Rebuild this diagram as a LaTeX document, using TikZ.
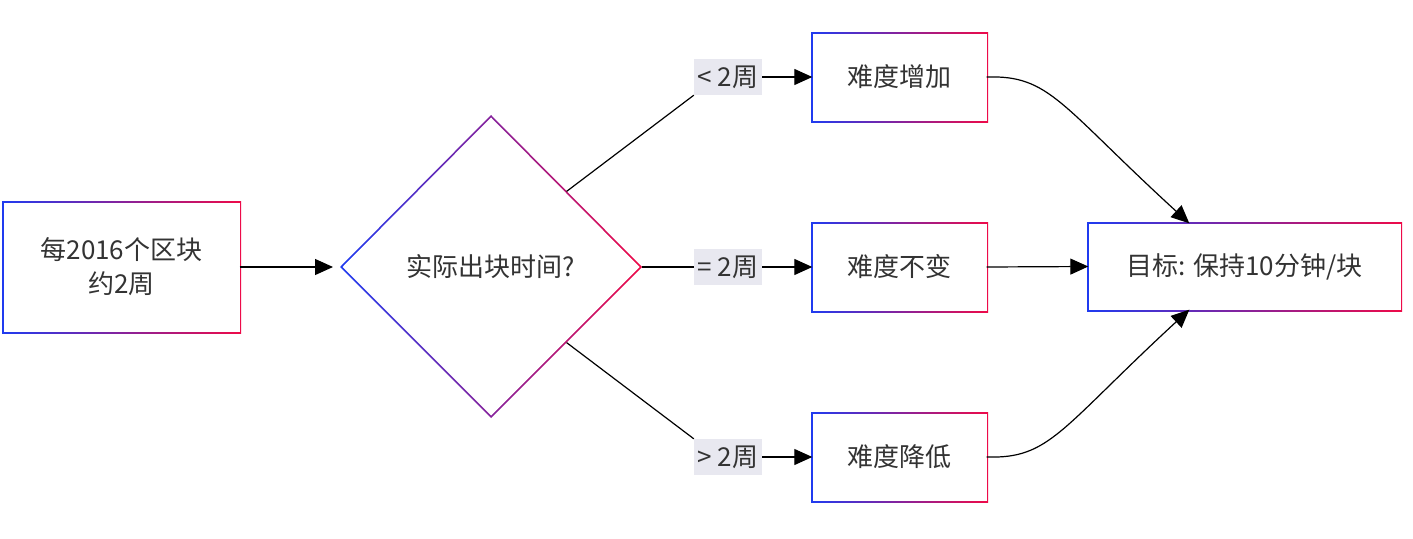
\documentclass[tikz,border=0pt]{standalone}
\usepackage{fontspec}
\setmainfont{Noto Sans CJK SC}
\usetikzlibrary{shapes.geometric,arrows.meta}
\definecolor{gb}{HTML}{1F3BF0}
\definecolor{gr}{HTML}{EE0A48}
\definecolor{lbl}{HTML}{E8E8F0}
\begin{document}
\begin{tikzpicture}[x=1pt,y=-1pt,
  grad/.style={left color=gb,right color=gr},
  box/.style={fill=white,draw=none,inner sep=0,font=\fontsize{26}{34}\selectfont,text=black!80,align=center},
  lab/.style={fill=lbl,inner sep=0,minimum width=68,minimum height=36,font=\fontsize{26}{34}\selectfont,text=black!80},
  arr/.style={line width=1.2,-{Triangle[length=18,width=16]}},
  ln/.style={line width=1.2}]
\useasboundingbox (0,0) rectangle (1413,538);
% start
\shade[grad] (2,201) rectangle (241,333);
\node[box,minimum width=236,minimum height=129] (s) at (121.5,267) {每2016个区块\\约2周};
% diamond
\shade[grad] (340,267)--(491,115)--(642,267)--(491,418)--cycle;
\fill[white] (342.5,267)--(491,117.5)--(639.5,267)--(491,415.5)--cycle;
\node[diamond,aspect=1,minimum width=302,minimum height=302,inner sep=0,font=\fontsize{26}{34}\selectfont,text=black!80] (d) at (491,267) {实际出块时间?};
% boxes
\foreach \n/\y/\t in {b1/77/难度增加,b2/267/难度不变,b3/457/难度降低}{
  \shade[grad] (811,\y-45) rectangle (988,\y+45);
  \node[box,minimum width=174,minimum height=87] (\n) at (899.5,\y) {\t};
}
\shade[grad] (1087,222) rectangle (1402,311);
\node[box,minimum width=312,minimum height=86] (t) at (1244.5,266.5) {目标: 保持10分钟/块};
% labels
\node[lab] (l1) at (728,77) {< 2周};
\node[lab] (l2) at (728,267) {= 2周};
\node[lab] (l3) at (728,457) {> 2周};
% edges
\draw[arr] (s.east) -- (333,267) coordinate (dw);
\draw[ln] (d.north east) -- (l1.south west);
\draw[ln] (d.east) -- (l2.west);
\draw[ln] (d.south east) -- (l3.north west);
\draw[arr] (l1.east) -- (b1.west);
\draw[arr] (l2.east) -- (b2.west);
\draw[arr] (l3.east) -- (b3.west);
\draw[arr] (b2.east) -- (t.west);
\draw[arr] (b1.east) .. controls (1050,75) and (1060,105) .. ([xshift=101]t.north west);
\draw[arr] (b3.east) .. controls (1050,459) and (1060,429) .. ([xshift=101]t.south west);
\end{tikzpicture}
\end{document}
